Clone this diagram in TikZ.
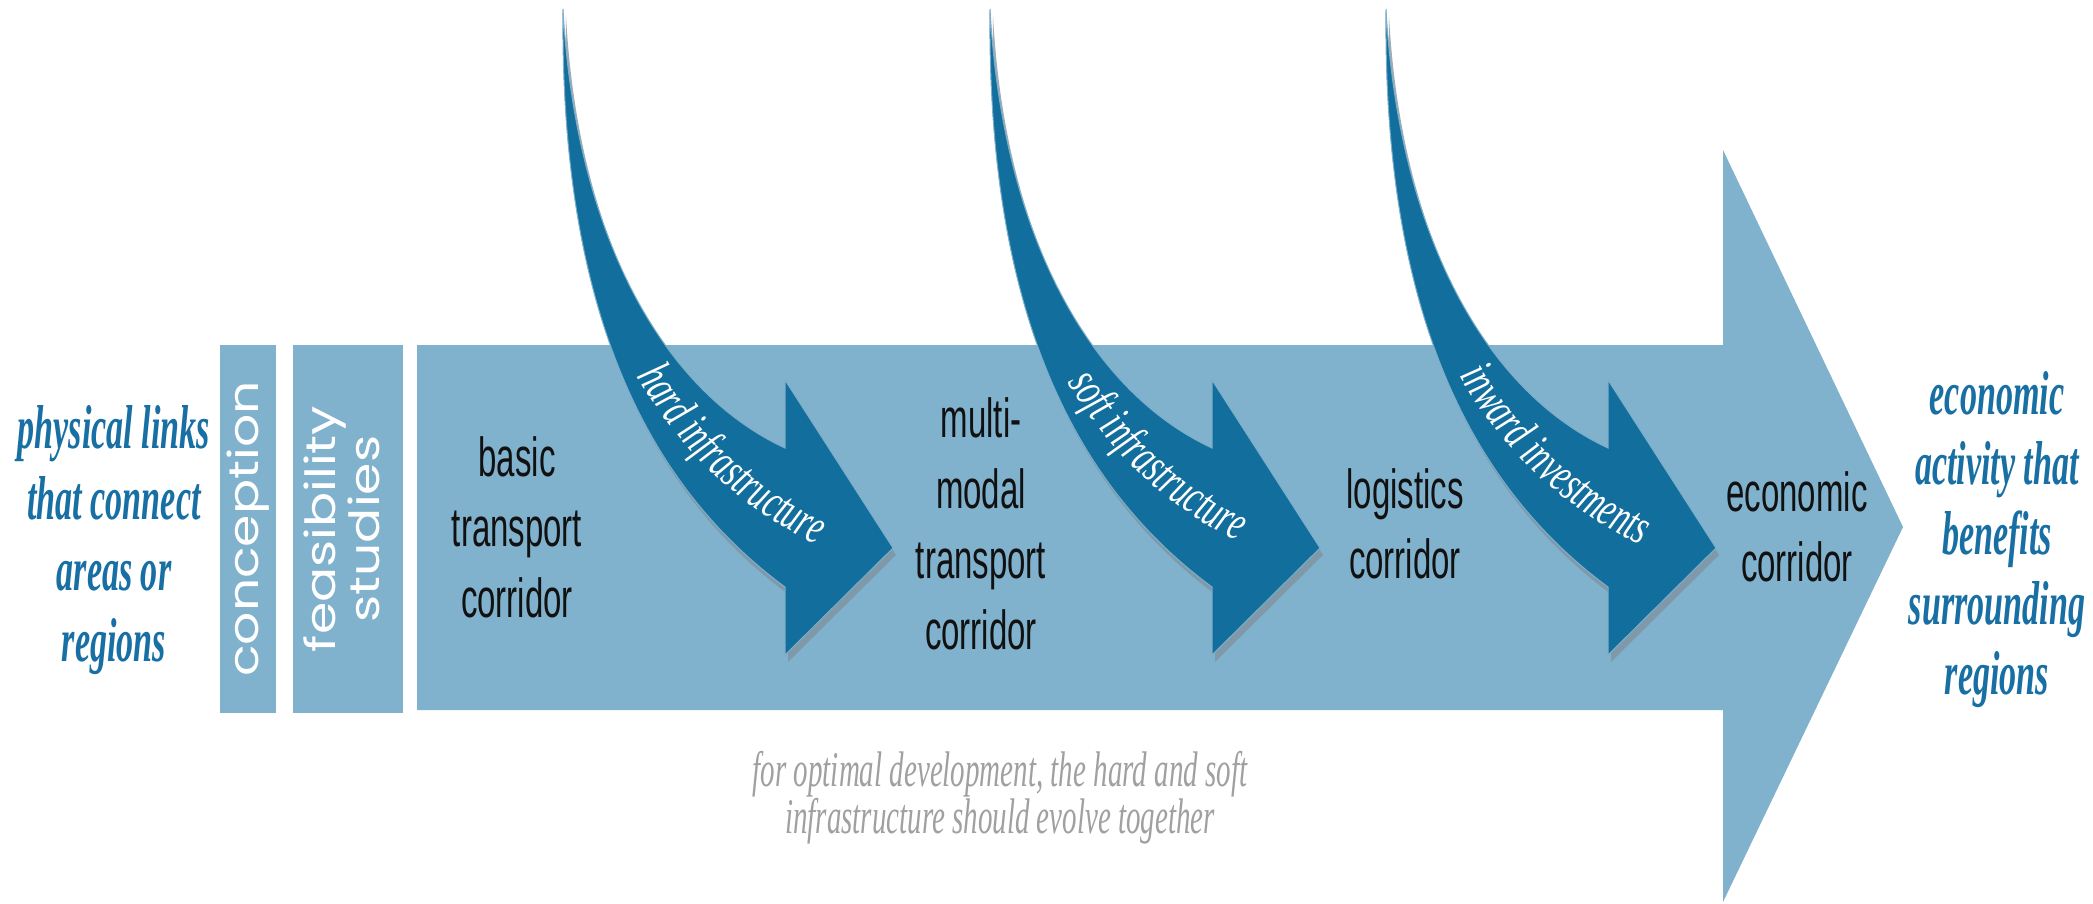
\documentclass[tikz,border=0pt]{standalone}
\usepackage{fontspec}
\usetikzlibrary{decorations.text}
\newfontfamily\sansnarrow[FakeStretch=0.6]{Liberation Sans}
\newfontfamily\serifbi[FakeStretch=0.55]{Liberation Serif Bold Italic}
\newfontfamily\serifit[FakeStretch=0.65]{Liberation Serif Italic}
\newfontfamily\serifnote[FakeStretch=0.58]{Liberation Serif Italic}
\newfontfamily\gothic{Poppins}
\definecolor{lightblue}{HTML}{80B2CE}
\definecolor{darkblue}{HTML}{126E9D}
\definecolor{textblue}{HTML}{186FA3}
\definecolor{graytext}{HTML}{A0A0A0}
\definecolor{shadowgray}{HTML}{7F919D}
\definecolor{inktext}{HTML}{111111}
\newcommand\arrowfont{\serifit\fontsize{50}{50}\selectfont}
\newcommand\arrowshape{(563,9) .. controls (575,230) and (660,390) .. (785,448) -- (785,380) -- (893,548) -- (785,655) -- (785,587) .. controls (640,480) and (560,300) .. (563,9) -- cycle}
\newcommand\curvarrow[2]{%
  \begin{scope}[xshift=#1]
    \fill[shadowgray, opacity=0.75, shift={(3,7)}] \arrowshape;
    \fill[darkblue, draw=darkblue!55!white, line width=1] \arrowshape;
    \path[decorate, decoration={text along path, text align=center,
      text={|\arrowfont\color{white}|#2}}]
      (615,335) .. controls (668,448) and (752,525) .. (860,562);
  \end{scope}}
\tikzset{
  sidetext/.style={font=\serifbi\fontsize{62}{71}\selectfont, text=textblue, align=center, inner sep=0},
  stagetext/.style={font=\sansnarrow\fontsize{55}{70.5}\selectfont, text=inktext, align=center, inner sep=0},
  phasebox/.style={fill=lightblue, rotate=90, inner sep=0, text=white, font=\gothic\fontsize{52}{52}\selectfont},
  graynote/.style={font=\serifnote\fontsize{50}{45}\selectfont, text=graytext, align=center, inner sep=0}
}
\begin{document}
\begin{tikzpicture}[x=1pt, y=-1pt]
\useasboundingbox (0,0) rectangle (2093,903);
% main arrow
\fill[lightblue] (417,345) -- (1723,345) -- (1723,150) -- (1903,527) -- (1723,902) -- (1723,710) -- (417,710) -- cycle;
% phase boxes
\node[phasebox, minimum width=368, minimum height=56] (conc) at (248,529) {\scalebox{1}[0.8]{conception}};
\node[phasebox, minimum width=368, minimum height=110] (feas) at (348,529) {\scalebox{1}[0.8]{\begin{tabular}{@{}c@{}}feasibility\\studies\end{tabular}}};
% curved arrows
\curvarrow{0}{hard infrastructure}
\curvarrow{427}{soft infrastructure}
\curvarrow{823}{inward investments}
% texts
\node[sidetext] (phys) at (114,540) {physical links\\that connect\\areas or\\regions};
\node[sidetext, font=\serifbi\fontsize{62}{70}\selectfont] (benef) at (1997,540) {economic\\activity that\\benefits\\surrounding\\regions};
\node[stagetext] (basic) at (517,527) {basic\\transport\\corridor};
\node[stagetext] (multi) at (981,524) {multi-\\modal\\transport\\corridor};
\node[stagetext] (logis) at (1405,524) {logistics\\corridor};
\node[stagetext] (econ) at (1797,527) {economic\\corridor};
\node[graynote] (note) at (1000,798) {for optimal development, the hard and soft\\infrastructure should evolve together};
\end{tikzpicture}
\end{document}
